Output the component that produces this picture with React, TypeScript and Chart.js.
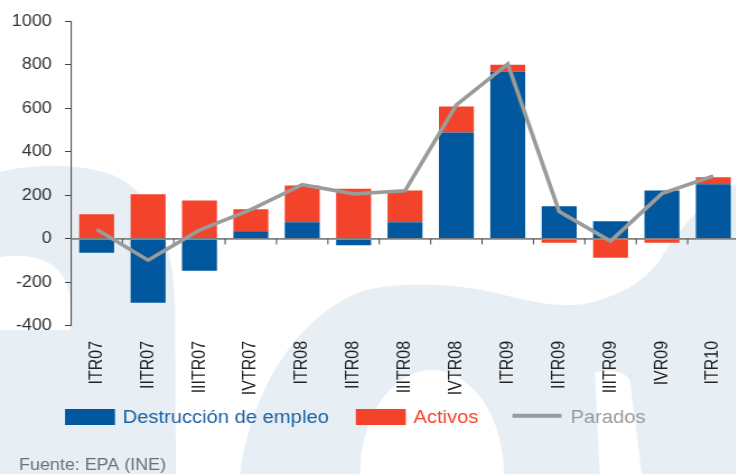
import { useEffect, useRef } from 'react';
import { Chart, registerables } from 'chart.js';

Chart.register(...registerables);

// ---- data ----
const categories = ['ITR07', 'IITR07', 'IIITR07', 'IVTR07', 'ITR08', 'IITR08', 'IIITR08', 'IVTR08', 'ITR09', 'IITR09', 'IIITR09', 'IVR09', 'ITR10'];
const destruccionEmpleo = [-64, -294, -147, 35, 77, -29, 77, 489, 769, 150, 81, 223, 251];
const activos = [113, 205, 177, 101, 169, 231, 146, 120, 32, -18, -87, -18, 33];
const parados = [43, -98, 40, 135, 249, 207, 221, 616, 804, 126, -10, 208, 289];
const yTicks = [-400, -200, 0, 200, 400, 600, 800, 1000];
const seriesNames = ['Destrucción de empleo', 'Activos', 'Parados'];
const sourceText = 'Fuente: EPA (INE)';

// ---- styles ----
const BLUE = '#01589f';
const RED = '#f4432b';
const GRAY = '#9b9b99';
const WATER = '#e7eff5';
const FONT = "'Liberation Sans', Arial, Helvetica, sans-serif";
const S = 1.12; // horizontal stretch of the picture
const W = 660;
const H = 474;

const watermark = {
  id: 'watermark',
  beforeDraw(chart: any) {
    const ctx = chart.ctx;
    ctx.save();
    ctx.scale(1 / S, 1);
    ctx.fillStyle = WATER;
    // left shape
    ctx.beginPath();
    ctx.moveTo(0, 172);
    ctx.bezierCurveTo(35, 163, 85, 163, 115, 176);
    ctx.bezierCurveTo(155, 195, 174, 240, 175, 310);
    ctx.lineTo(176, 474);
    ctx.lineTo(0, 474);
    ctx.closePath();
    ctx.fill();
    // right shape
    ctx.beginPath();
    ctx.moveTo(240, 474);
    ctx.bezierCurveTo(250, 400, 290, 320, 360, 292);
    ctx.bezierCurveTo(400, 280, 460, 284, 500, 294);
    ctx.bezierCurveTo(540, 304, 570, 310, 600, 300);
    ctx.bezierCurveTo(630, 290, 645, 280, 660, 260);
    ctx.bezierCurveTo(685, 220, 710, 195, 740, 183);
    ctx.lineTo(740, 474);
    ctx.closePath();
    ctx.fill();
    // holes
    ctx.fillStyle = '#ffffff';
    ctx.beginPath();
    ctx.moveTo(0, 257);
    ctx.bezierCurveTo(35, 252, 68, 262, 70, 300);
    ctx.lineTo(70, 330);
    ctx.lineTo(0, 330);
    ctx.closePath();
    ctx.fill();
    ctx.beginPath();
    ctx.ellipse(432, 474, 72, 104, 0, 0, Math.PI * 2);
    ctx.fill();
    ctx.beginPath();
    ctx.moveTo(595, 372);
    ctx.bezierCurveTo(610, 369, 625, 371, 630, 380);
    ctx.lineTo(642, 474);
    ctx.lineTo(600, 474);
    ctx.closePath();
    ctx.fill();
    ctx.restore();
  },
};

const zeroAxis = {
  id: 'zeroAxis',
  beforeDatasetDraw(chart: any, args: any) {
    if (args.index !== 2) return;
    const { ctx, chartArea, scales } = chart;
    const x = scales.x;
    const y0 = scales.y.getPixelForValue(0);
    ctx.save();
    ctx.strokeStyle = '#808080';
    ctx.lineWidth = 1.8;
    ctx.beginPath();
    ctx.moveTo(chartArea.left, y0);
    ctx.lineTo(chartArea.right, y0);
    ctx.stroke();
    ctx.strokeStyle = '#444444';
    ctx.lineWidth = 1;
    for (let i = 0; i < categories.length - 1; i++) {
      const xb = (x.getPixelForValue(i) + x.getPixelForValue(i + 1)) / 2;
      ctx.beginPath();
      ctx.moveTo(xb, y0);
      ctx.lineTo(xb, y0 + 5.5);
      ctx.stroke();
    }
    ctx.restore();
  },
};

const customLegend = {
  id: 'customLegend',
  afterDraw(chart: any) {
    const ctx = chart.ctx;
    const textColors = ['#1a60a3', RED, '#9a9a9a'];
    const gapsBefore = [0, 27, 34];
    const boxW = [50, 50, 49];
    let xs = 65; // screen px
    ctx.save();
    ctx.font = `18px ${FONT}`;
    ctx.textBaseline = 'alphabetic';
    ctx.textAlign = 'left';
    chart.data.datasets.forEach((ds: any, i: number) => {
      xs += gapsBefore[i];
      const bx = xs / S;
      const bw = boxW[i] / S;
      if (ds.type === 'line') {
        ctx.strokeStyle = ds.borderColor;
        ctx.lineWidth = 4;
        ctx.beginPath();
        ctx.moveTo(bx, 415.7);
        ctx.lineTo(bx + bw, 415.7);
        ctx.stroke();
      } else {
        ctx.fillStyle = ds.backgroundColor;
        ctx.fillRect(bx, 409, bw, 16);
      }
      xs += boxW[i] + (ds.type === 'line' ? 9 : 7.7);
      ctx.fillStyle = textColors[i];
      ctx.fillText(ds.label, xs / S, 423.3);
      xs += ctx.measureText(ds.label).width * S;
    });
    ctx.font = `16px ${FONT}`;
    ctx.fillStyle = '#6f6f6f';
    ctx.fillText(sourceText, 19 / S, 469.5);
    ctx.restore();
  },
};

export default function App() {
  const ref = useRef<HTMLCanvasElement>(null);
  useEffect(() => {
    const canvas = ref.current;
    if (!canvas) return;
    Chart.defaults.font.family = FONT;
    const chart = new Chart(canvas, {
      type: 'bar',
      data: {
        labels: categories,
        datasets: [
          {
            type: 'bar',
            label: seriesNames[0],
            data: destruccionEmpleo,
            backgroundColor: BLUE,
            borderWidth: 0,
            order: 1,
            stack: 'bars',
          },
          {
            type: 'bar',
            label: seriesNames[1],
            data: activos,
            backgroundColor: RED,
            borderWidth: 0,
            order: 1,
            stack: 'bars',
          },
          {
            type: 'line',
            label: seriesNames[2],
            data: parados,
            borderColor: GRAY,
            backgroundColor: GRAY,
            borderWidth: 3.6,
            pointRadius: 0,
            tension: 0,
            fill: false,
            order: 0,
            stack: 'line',
          } as any,
        ],
      },
      options: {
        animation: false,
        responsive: false,
        devicePixelRatio: 1,
        layout: { padding: { top: 20.7, left: 0, right: 0, bottom: 0 } },
        datasets: { bar: { categoryPercentage: 1, barPercentage: 0.68 } },
        plugins: {
          legend: { display: false },
          tooltip: { enabled: false },
          title: { display: false },
        },
        scales: {
          x: {
            type: 'category',
            stacked: true,
            offset: true,
            grid: { display: false, drawTicks: false },
            border: { display: false },
            ticks: {
              minRotation: 90,
              maxRotation: 90,
              autoSkip: false,
              padding: 15,
              color: '#222222',
              font: { size: 16, family: FONT },
            },
            afterFit(scale: any) {
              scale.height = H - 325.9;
              scale.paddingLeft = 0;
              scale.paddingRight = 0;
            },
          },
          y: {
            type: 'linear',
            stacked: true,
            min: yTicks[0],
            max: yTicks[yTicks.length - 1],
            afterBuildTicks(scale: any) {
              scale.ticks = yTicks.map((v) => ({ value: v }));
            },
            grid: {
              drawOnChartArea: false,
              drawTicks: true,
              tickLength: 5.4,
              color: '#444444',
              lineWidth: 1,
            },
            border: { display: true, color: '#555555', width: 1.1 },
            ticks: {
              padding: 11.8,
              color: '#333333',
              font: { size: 16, family: FONT },
              callback: (v: any) => String(v),
            },
            afterFit(scale: any) {
              scale.width = 71 / S;
            },
          },
        },
      },
      plugins: [watermark, zeroAxis, customLegend],
    });
    return () => chart.destroy();
  }, []);
  return (
    <div style={{ position: 'fixed', left: 0, top: 0, width: 736, height: 474, overflow: 'hidden', background: '#ffffff' }}>
      <canvas ref={ref} width={W} height={H} style={{ display: 'block', width: `${W * S}px`, height: `${H}px` }} />
    </div>
  );
}
